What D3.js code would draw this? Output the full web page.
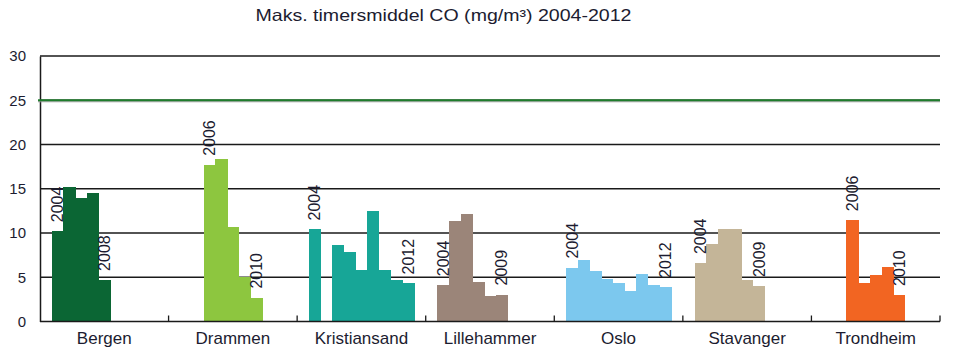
<!DOCTYPE html>
<html>
<head>
<meta charset="utf-8">
<script src="https://cdn.jsdelivr.net/npm/d3@7"></script>
<style>
  html, body { margin: 0; padding: 0; background: #fff; }
  svg { display: block; font-family: "Liberation Sans", Arial, sans-serif; }
</style>
</head>
<body>
<svg id="chart" width="970" height="356"></svg>
<script>
// ---- data ----
const cities = ["Bergen", "Drammen", "Kristiansand", "Lillehammer", "Oslo", "Stavanger", "Trondheim"];
const years = [2004, 2005, 2006, 2007, 2008, 2009, 2010, 2011, 2012];
const bergen       = [10.2, 15.2, 13.9, 14.5, 4.7, null, null, null, null];
const drammen      = [null, null, 17.7, 18.4, 10.7, 5.0, 2.7, null, null];
const kristiansand = [10.4, null, 8.6, 7.9, 5.8, 12.5, 5.8, 4.7, 4.3];
const lillehammer  = [4.1, 11.3, 12.1, 4.5, 2.9, 3.05, null, null, null];
const oslo         = [6.1, 6.9, 5.7, 4.8, 4.3, 3.4, 5.4, 4.1, 3.9];
const stavanger    = [6.6, 8.8, 10.5, 10.4, 4.7, 4.0, null, null, null];
const trondheim    = [null, null, 11.45, 4.3, 5.2, 6.2, 3.0, null, null];
const seriesValues = [bergen, drammen, kristiansand, lillehammer, oslo, stavanger, trondheim];
const yTicks = [0, 5, 10, 15, 20, 25, 30];
const limitValue = 25;
const title = "Maks. timersmiddel CO (mg/m³) 2004-2012";

// ---- styles ----
const colors = ["#0b6634", "#8dc63f", "#17a697", "#9b8579", "#7cc8ee", "#c4b598", "#f26522"];
const textColor = "#1c1c30";

// ---- layout ----
const svg = d3.select("#chart");
const mLeft = 40, mRight = 940, mTop = 56, mBottom = 321.5;

const y = d3.scaleLinear().domain([0, 30]).range([mBottom, mTop]);
const x0 = d3.scaleBand().domain(cities).range([mLeft, mRight]).padding(0);
const x1 = d3.scaleBand().domain(years).range([0, x0.bandwidth()]).paddingInner(0).paddingOuter(1);

// title
svg.append("text")
  .attr("x", 443.5).attr("y", 21)
  .attr("text-anchor", "middle")
  .attr("font-size", 16.5)
  .attr("textLength", 376).attr("lengthAdjust", "spacingAndGlyphs")
  .attr("fill", textColor)
  .text(title);

// gridlines
svg.append("g").selectAll("line")
  .data(yTicks.filter(d => d > 0))
  .join("line")
  .attr("x1", mLeft).attr("x2", mRight)
  .attr("y1", d => y(d)).attr("y2", d => y(d))
  .attr("stroke", "#1a1a1a").attr("stroke-width", 1.4);

// y-axis
const yAxis = d3.axisLeft(y).tickValues(yTicks).tickSize(0).tickPadding(14);
const gy = svg.append("g").attr("transform", `translate(${mLeft},0)`).call(yAxis);
gy.select(".domain").attr("stroke", "#1a1a1a").attr("stroke-width", 1.5);
gy.selectAll("text").attr("font-size", 15).attr("fill", textColor)
  .attr("font-family", "\"Liberation Sans\", Arial, sans-serif");

// bars
const groups = svg.append("g").selectAll("g")
  .data(cities.map((c, i) => ({ city: c, color: colors[i], values: seriesValues[i] })))
  .join("g")
  .attr("transform", d => `translate(${x0(d.city)},0)`);

groups.selectAll("rect")
  .data(d => years.map((yr, j) => ({ year: yr, v: d.values[j], color: d.color })).filter(e => e.v != null))
  .join("rect")
  .attr("x", e => x1(e.year))
  .attr("width", x1.bandwidth() + 0.5)
  .attr("y", e => y(e.v))
  .attr("height", e => y(0) - y(e.v))
  .attr("shape-rendering", "crispEdges")
  .attr("fill", e => e.color);

// year labels on first and last bars
groups.each(function(d) {
  const pts = years.map((yr, j) => ({ year: yr, v: d.values[j] })).filter(e => e.v != null);
  const ends = [pts[0], pts[pts.length - 1]];
  d3.select(this).selectAll("text.yr")
    .data(ends)
    .join("text")
    .attr("class", "yr")
    .attr("transform", e => `translate(${x1(e.year) + x1.bandwidth() / 2},${y(e.v) - 9}) rotate(-90)`)
    .attr("dy", "0.36em")
    .attr("text-anchor", "start")
    .attr("font-size", 16)
    .attr("fill", textColor)
    .text(e => e.year);
});

// limit line at 25
svg.append("line")
  .attr("x1", mLeft - 2).attr("x2", mRight)
  .attr("y1", y(limitValue) + 1.5).attr("y2", y(limitValue) + 1.5)
  .attr("stroke", "#9a9a9a").attr("stroke-width", 1.2);
svg.append("line")
  .attr("x1", mLeft - 2).attr("x2", mRight)
  .attr("y1", y(limitValue)).attr("y2", y(limitValue))
  .attr("stroke", "#1f7d2c").attr("stroke-width", 2.2);

// x-axis baseline with category boundary ticks
const xAxisG = svg.append("g");
xAxisG.append("line")
  .attr("x1", mLeft).attr("x2", mRight)
  .attr("y1", y(0)).attr("y2", y(0))
  .attr("stroke", "#1a1a1a").attr("stroke-width", 1.5);
xAxisG.selectAll("line.tk")
  .data(cities)
  .join("line")
  .attr("class", "tk")
  .attr("x1", c => x0(c) + x0.bandwidth()).attr("x2", c => x0(c) + x0.bandwidth())
  .attr("y1", y(0)).attr("y2", y(0) - 6)
  .attr("stroke", "#1a1a1a").attr("stroke-width", 1.3);
xAxisG.selectAll("text")
  .data(cities)
  .join("text")
  .attr("x", c => x0(c) + x0.bandwidth() / 2)
  .attr("y", 343.5)
  .attr("text-anchor", "middle")
  .attr("font-size", 17)
  .attr("fill", textColor)
  .text(c => c);
</script>
</body>
</html>
